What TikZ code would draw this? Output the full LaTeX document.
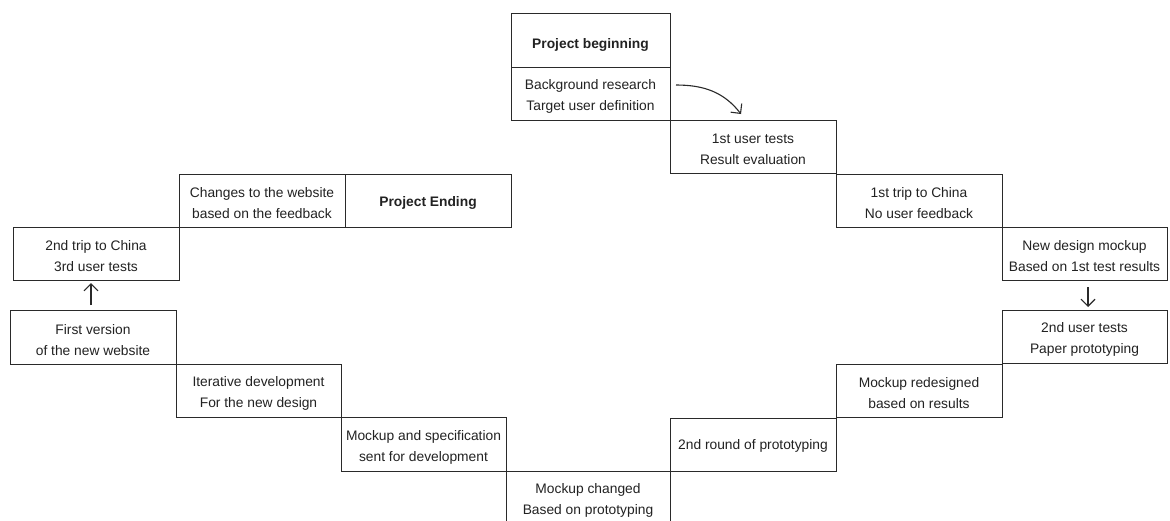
\documentclass[tikz,border=0pt]{standalone}
\usepackage{fontspec}
\setmainfont{Liberation Sans}
\usetikzlibrary{arrows.meta}
\definecolor{linec}{HTML}{2a2a2a}
\definecolor{txtc}{HTML}{222222}
\begin{document}
\begin{tikzpicture}[x=1pt,y=-1pt,
  box/.style={draw=linec, line width=1pt, inner sep=0pt, outer sep=0pt,
    anchor=north west, minimum width=166pt, minimum height=53pt},
  txt/.style={align=center, text=txtc, inner sep=0pt, yshift=-3pt,
    font=\fontsize{13.8}{21}\selectfont},
  hd/.style={txt, font=\bfseries\fontsize{13.8}{21}\selectfont},
  arr/.style={draw=linec, line width=1.1pt, -{Straight Barb[length=7pt,width=14pt,line width=1.1pt]}}]
\useasboundingbox (0,0) rectangle (1170,520);
\fill[white] (0,0) rectangle (1170,520);
\node[box, minimum width=159pt, minimum height=54pt, label={[hd,yshift=-2pt]center:Project beginning}] (pb) at (511,13) {};
\node[box, minimum width=159pt, label={[txt]center:{Background research\\Target user definition}}] (bg) at (511,67) {};
\node[box, label={[txt]center:{1st user tests\\Result evaluation}}] (t1) at (670,120) {};
\node[box, label={[txt]center:{1st trip to China\\No user feedback}}] (c1) at (836,174) {};
\node[box, minimum width=165pt, label={[txt]center:{New design mockup\\Based on 1st test results}}] (nd) at (1002,227) {};
\node[box, minimum width=165pt, label={[txt]center:{2nd user tests\\Paper prototyping}}] (t2) at (1002,310) {};
\node[box, label={[txt]center:{Mockup redesigned\\based on results}}] (mr) at (836,364) {};
\node[box, label={[txt,yshift=2pt]center:{2nd round of prototyping}}] (rp) at (670,418) {};
\node[box, minimum width=164pt, label={[txt]center:{Mockup changed\\Based on prototyping}}] (mc) at (506,471) {};
\node[box, minimum width=165pt, minimum height=54pt, label={[txt]center:{Mockup and specification\\sent for development}}] (ms) at (341,417) {};
\node[box, minimum width=165pt, label={[txt]center:{Iterative development\\For the new design}}] (it) at (176,364) {};
\node[box, minimum height=54pt, label={[txt]center:{First version\\of the new website}}] (fv) at (10,310) {};
\node[box, label={[txt]center:{2nd trip to China\\3rd user tests}}] (t3) at (13,227) {};
\node[box, label={[txt]center:{Changes to the website\\based on the feedback}}] (ch) at (179,174) {};
\node[box, label={[hd,yshift=1pt]center:Project Ending}] (pe) at (345,174) {};
% arrows
\draw[arr] ([xshift=6pt,yshift=8.5pt]bg.east) to[out=0,in=128] ([xshift=-12pt,yshift=6pt]t1.north);
\coordinate (a2s) at ([xshift=3.5pt,yshift=-7pt]nd.south);
\draw[arr] (a2s) -- ([yshift=3pt]a2s |- t2.north);
\coordinate (a3s) at ([xshift=-2pt,yshift=5pt]fv.north);
\draw[arr] (a3s) -- ([yshift=-3pt]a3s |- t3.south);
\end{tikzpicture}
\end{document}
